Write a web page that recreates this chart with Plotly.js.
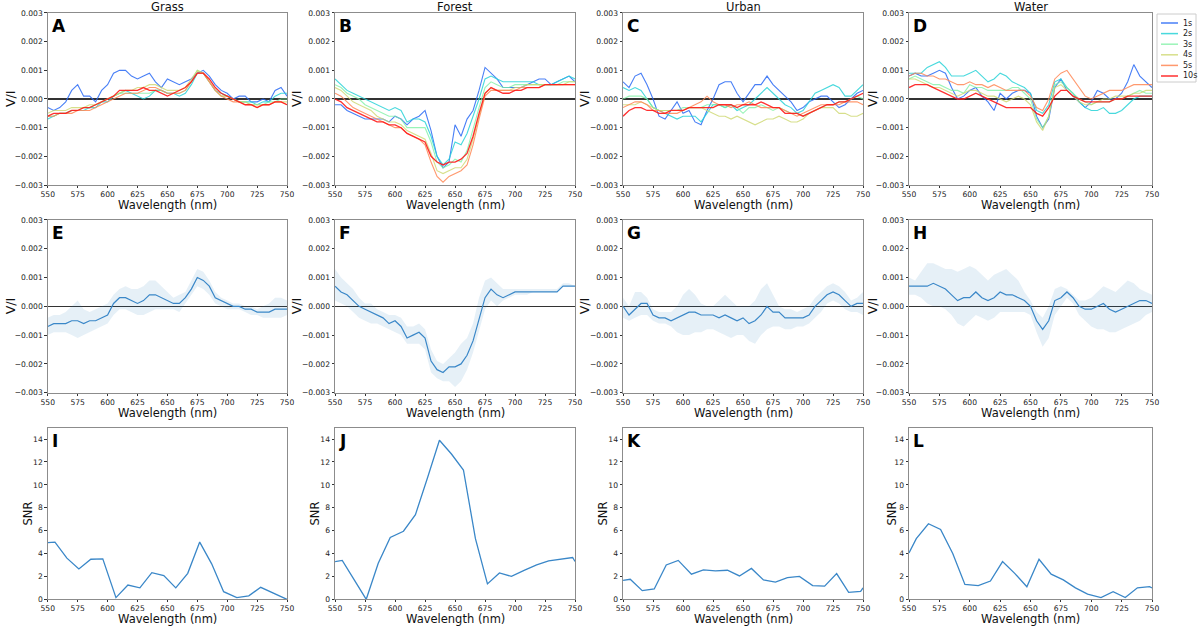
<!DOCTYPE html>
<html>
<head>
<meta charset="utf-8">
<script src="https://cdn.plot.ly/plotly-3.0.1.min.js"></script>
<style>html,body{margin:0;padding:0;background:#fff;}#chart{width:1200px;height:628px;}</style>
</head>
<body>
<div id="chart"></div>
<script>
// ---------- DATA ----------
const panelTitles = ["Grass", "Forest", "Urban", "Water"];
const panelLetters = ["A","B","C","D","E","F","G","H","I","J","K","L"];
const seriesNames = ["1s","2s","3s","4s","5s","10s"];
const xAxisTitle = "Wavelength (nm)";
const rowYTitles = ["V/I","V/I","SNR"];
const wavelength = [550,555,560,565,570,575,580,585,590,595,600,605,610,615,620,625,630,635,640,645,650,655,660,665,670,675,680,685,690,695,700,705,710,715,720,725,730,735,740,745,750];
const xTicks = [550,575,600,625,650,675,700,725,750];
const viTicks = [-0.003,-0.002,-0.001,0,0.001,0.002,0.003];
const snrTicks = [0,2,4,6,8,10,12,14];

// Row 1 : V/I per exposure time
const grass1s  = [-0.0003,-0.0004,-0.0003,-0.0001,0.0003,0.0005,0.0001,0.0001,-0.0001,0.0003,0.0005,0.0009,0.0010,0.0010,0.0008,0.0007,0.0008,0.0009,0.0006,0.0004,0.0007,0.0006,0.0005,0.0006,0.0007,0.0009,0.0010,0.0008,0.0005,0.0003,0.0002,0.0000,0.0001,0.0001,-0.0001,-0.0001,0.0000,-0.0001,0.0003,0.0004,0.0001];
const grass2s  = [-0.0007,-0.0006,-0.0005,-0.0005,-0.0004,-0.0004,-0.0004,-0.0003,-0.0003,-0.0001,-0.0001,0.0001,0.0002,0.0003,0.0002,0.0001,0.0000,0.0001,0.0003,0.0003,0.0002,0.0002,0.0001,0.0002,0.0005,0.0009,0.0009,0.0006,0.0003,0.0002,0.0001,0.0000,-0.0001,-0.0001,-0.0001,-0.0002,-0.0001,-0.0001,0.0001,0.0002,0.0002];
const grass3s  = [-0.0006,-0.0006,-0.0005,-0.0005,-0.0004,-0.0004,-0.0003,-0.0003,-0.0002,-0.0001,0.0000,0.0001,0.0002,0.0002,0.0002,0.0002,0.0002,0.0002,0.0003,0.0003,0.0002,0.0002,0.0002,0.0003,0.0006,0.0010,0.0009,0.0006,0.0003,0.0001,0.0001,0.0000,-0.0001,-0.0001,-0.0002,-0.0002,-0.0002,-0.0001,-0.0001,0.0000,0.0000];
const grass4s  = [-0.0005,-0.0004,-0.0004,-0.0004,-0.0003,-0.0003,-0.0003,-0.0002,-0.0002,-0.0001,0.0000,0.0001,0.0002,0.0003,0.0003,0.0004,0.0004,0.0005,0.0005,0.0004,0.0003,0.0003,0.0003,0.0004,0.0007,0.0010,0.0009,0.0006,0.0003,0.0001,0.0001,0.0000,-0.0001,-0.0001,-0.0002,-0.0002,-0.0002,-0.0002,-0.0001,-0.0001,-0.0001];
const grass5s  = [-0.0006,-0.0006,-0.0005,-0.0005,-0.0005,-0.0004,-0.0004,-0.0004,-0.0003,-0.0002,-0.0001,0.0000,0.0001,0.0002,0.0002,0.0002,0.0003,0.0004,0.0004,0.0003,0.0002,0.0002,0.0002,0.0003,0.0006,0.0009,0.0009,0.0006,0.0003,0.0001,0.0000,-0.0001,-0.0001,-0.0002,-0.0002,-0.0003,-0.0002,-0.0002,-0.0001,-0.0001,-0.0002];
const grass10s = [-0.0006,-0.0005,-0.0005,-0.0005,-0.0004,-0.0004,-0.0003,-0.0003,-0.0002,-0.0001,0.0000,0.0001,0.0003,0.0003,0.0003,0.0003,0.0004,0.0003,0.0003,0.0002,0.0001,0.0002,0.0003,0.0004,0.0006,0.0009,0.0009,0.0007,0.0004,0.0002,0.0001,0.0000,-0.0001,-0.0002,-0.0002,-0.0003,-0.0002,-0.0002,-0.0001,-0.0001,-0.0002];

const forest1s  = [-0.0002,-0.0002,-0.0004,-0.0005,-0.0006,-0.0007,-0.0007,-0.0007,-0.0007,-0.0008,-0.0006,-0.0007,-0.0009,-0.0007,-0.0006,-0.0004,-0.0011,-0.0020,-0.0024,-0.0022,-0.0009,-0.0013,-0.0007,-0.0004,0.0003,0.0011,0.0009,0.0007,0.0004,0.0004,0.0004,0.0004,0.0005,0.0006,0.0007,0.0007,0.0005,0.0006,0.0007,0.0008,0.0006];
const forest2s  = [0.0007,0.0005,0.0003,0.0002,0.0001,0.0000,-0.0001,-0.0002,-0.0003,-0.0004,-0.0003,-0.0004,-0.0008,-0.0007,-0.0007,-0.0008,-0.0013,-0.0020,-0.0023,-0.0021,-0.0015,-0.0016,-0.0012,-0.0006,0.0000,0.0007,0.0008,0.0007,0.0006,0.0006,0.0006,0.0006,0.0006,0.0006,0.0005,0.0005,0.0005,0.0006,0.0007,0.0008,0.0007];
const forest3s  = [0.0005,0.0004,0.0002,0.0001,0.0000,-0.0002,-0.0003,-0.0004,-0.0005,-0.0006,-0.0006,-0.0007,-0.0010,-0.0010,-0.0010,-0.0010,-0.0015,-0.0022,-0.0024,-0.0023,-0.0021,-0.0022,-0.0018,-0.0010,-0.0003,0.0004,0.0006,0.0005,0.0004,0.0004,0.0005,0.0005,0.0005,0.0005,0.0005,0.0005,0.0005,0.0005,0.0006,0.0006,0.0006];
const forest4s  = [0.0004,0.0003,0.0001,-0.0001,-0.0002,-0.0003,-0.0004,-0.0006,-0.0007,-0.0008,-0.0008,-0.0009,-0.0011,-0.0012,-0.0013,-0.0014,-0.0019,-0.0025,-0.0026,-0.0025,-0.0024,-0.0024,-0.0021,-0.0014,-0.0006,0.0002,0.0004,0.0003,0.0003,0.0003,0.0004,0.0004,0.0005,0.0005,0.0005,0.0005,0.0005,0.0005,0.0005,0.0006,0.0006];
const forest5s  = [0.0002,0.0001,-0.0001,-0.0003,-0.0004,-0.0005,-0.0006,-0.0007,-0.0008,-0.0009,-0.0010,-0.0010,-0.0012,-0.0013,-0.0014,-0.0016,-0.0022,-0.0027,-0.0029,-0.0027,-0.0026,-0.0025,-0.0023,-0.0016,-0.0007,0.0001,0.0003,0.0003,0.0003,0.0003,0.0003,0.0004,0.0004,0.0004,0.0004,0.0005,0.0005,0.0005,0.0005,0.0005,0.0005];
const forest10s = [0.0000,-0.0001,-0.0003,-0.0004,-0.0005,-0.0006,-0.0007,-0.0008,-0.0008,-0.0009,-0.0009,-0.0010,-0.0012,-0.0013,-0.0014,-0.0015,-0.0020,-0.0022,-0.0023,-0.0022,-0.0022,-0.0021,-0.0019,-0.0013,-0.0005,0.0002,0.0004,0.0003,0.0002,0.0002,0.0003,0.0003,0.0004,0.0004,0.0004,0.0005,0.0005,0.0005,0.0005,0.0005,0.0005];

const urban1s  = [0.0006,0.0004,0.0008,0.0009,0.0005,0.0000,-0.0006,-0.0007,-0.0004,-0.0001,-0.0005,-0.0004,-0.0008,-0.0009,-0.0004,0.0000,0.0005,0.0006,0.0006,0.0002,-0.0001,0.0002,0.0005,0.0005,0.0008,0.0005,0.0003,0.0001,-0.0001,-0.0004,-0.0003,-0.0001,0.0000,0.0001,0.0001,-0.0001,-0.0003,-0.0002,0.0000,0.0002,0.0003];
const urban2s  = [0.0004,0.0003,0.0004,0.0003,0.0000,-0.0003,-0.0004,-0.0005,-0.0006,-0.0007,-0.0006,-0.0006,-0.0006,-0.0008,-0.0005,-0.0002,-0.0002,-0.0003,-0.0002,-0.0004,-0.0003,-0.0002,0.0000,0.0002,0.0004,0.0002,0.0000,-0.0002,-0.0003,-0.0005,-0.0004,-0.0001,0.0002,0.0003,0.0004,0.0005,0.0004,0.0001,0.0001,0.0003,0.0005];
const urban3s  = [0.0000,0.0001,0.0001,0.0001,0.0000,-0.0003,-0.0004,-0.0004,-0.0004,-0.0004,-0.0003,-0.0003,-0.0003,-0.0003,-0.0002,-0.0002,-0.0002,-0.0003,-0.0002,-0.0003,-0.0005,-0.0003,-0.0003,-0.0002,-0.0003,-0.0004,-0.0003,-0.0004,-0.0005,-0.0005,-0.0006,-0.0005,-0.0004,-0.0003,-0.0002,-0.0002,-0.0001,-0.0001,0.0000,0.0001,0.0000];
const urban4s  = [-0.0002,-0.0002,-0.0002,-0.0001,-0.0002,-0.0003,-0.0004,-0.0004,-0.0004,-0.0004,-0.0004,-0.0003,-0.0003,-0.0003,-0.0004,-0.0005,-0.0006,-0.0006,-0.0007,-0.0006,-0.0007,-0.0008,-0.0009,-0.0008,-0.0007,-0.0007,-0.0006,-0.0007,-0.0008,-0.0008,-0.0007,-0.0005,-0.0004,-0.0003,-0.0003,-0.0003,-0.0005,-0.0005,-0.0006,-0.0006,-0.0005];
const urban5s  = [-0.0003,-0.0002,-0.0001,-0.0001,-0.0002,-0.0004,-0.0004,-0.0005,-0.0005,-0.0005,-0.0004,-0.0003,-0.0002,-0.0001,0.0001,-0.0001,-0.0002,-0.0002,-0.0003,-0.0002,-0.0002,-0.0001,-0.0002,-0.0003,-0.0003,-0.0003,-0.0003,-0.0004,-0.0005,-0.0006,-0.0005,-0.0004,-0.0003,-0.0002,-0.0002,-0.0002,-0.0002,-0.0001,-0.0001,-0.0001,-0.0002];
const urban10s = [-0.0006,-0.0004,-0.0003,-0.0003,-0.0004,-0.0004,-0.0005,-0.0005,-0.0004,-0.0004,-0.0004,-0.0003,-0.0003,-0.0003,-0.0003,-0.0003,-0.0002,-0.0002,-0.0002,-0.0003,-0.0002,-0.0002,-0.0002,-0.0001,-0.0002,-0.0003,-0.0003,-0.0005,-0.0005,-0.0005,-0.0006,-0.0005,-0.0004,-0.0003,-0.0002,-0.0002,-0.0001,-0.0001,0.0000,0.0001,0.0002];

const water1s  = [0.0008,0.0009,0.0008,0.0008,0.0009,0.0010,0.0009,0.0004,0.0000,0.0001,0.0003,0.0004,0.0001,-0.0001,-0.0004,0.0002,0.0000,0.0002,0.0003,0.0003,0.0002,-0.0006,-0.0010,-0.0007,0.0004,0.0007,0.0003,0.0001,-0.0001,-0.0003,-0.0001,0.0003,0.0002,0.0000,0.0000,0.0002,0.0006,0.0012,0.0008,0.0006,0.0004];
const water2s  = [0.0009,0.0009,0.0009,0.0011,0.0012,0.0013,0.0011,0.0008,0.0008,0.0008,0.0009,0.0010,0.0008,0.0006,0.0007,0.0009,0.0008,0.0006,0.0005,0.0004,0.0002,-0.0004,-0.0005,-0.0002,0.0006,0.0007,0.0004,0.0002,-0.0001,-0.0003,-0.0004,-0.0004,-0.0003,-0.0005,-0.0005,-0.0004,-0.0002,0.0000,0.0001,0.0001,0.0001];
const water3s  = [0.0007,0.0008,0.0007,0.0006,0.0005,0.0005,0.0004,0.0003,0.0003,0.0002,0.0005,0.0004,0.0004,0.0003,0.0003,0.0003,0.0003,0.0004,0.0004,0.0002,0.0000,-0.0007,-0.0010,-0.0006,0.0005,0.0006,0.0004,0.0002,0.0000,-0.0001,-0.0002,-0.0001,-0.0001,-0.0001,0.0000,0.0000,0.0001,0.0002,0.0003,0.0002,0.0002];
const water4s  = [0.0007,0.0007,0.0006,0.0005,0.0004,0.0004,0.0003,0.0002,0.0001,0.0002,0.0003,0.0003,0.0002,0.0001,0.0001,0.0000,-0.0001,0.0000,0.0001,0.0000,-0.0002,-0.0008,-0.0011,-0.0006,0.0004,0.0005,0.0003,0.0001,-0.0001,-0.0002,-0.0002,-0.0001,0.0000,0.0000,0.0001,0.0001,0.0001,0.0002,0.0002,0.0003,0.0003];
const water5s  = [0.0008,0.0009,0.0009,0.0008,0.0008,0.0007,0.0007,0.0006,0.0005,0.0005,0.0006,0.0005,0.0005,0.0004,0.0005,0.0004,0.0003,0.0003,0.0003,0.0003,0.0001,-0.0003,-0.0004,0.0000,0.0007,0.0009,0.0010,0.0007,0.0004,0.0001,0.0000,0.0001,0.0002,0.0003,0.0003,0.0003,0.0004,0.0005,0.0005,0.0005,0.0005];
const water10s = [0.0004,0.0005,0.0005,0.0005,0.0004,0.0003,0.0002,0.0001,0.0000,0.0000,0.0001,0.0002,0.0001,0.0000,-0.0001,-0.0002,-0.0003,-0.0003,-0.0003,-0.0003,-0.0003,-0.0005,-0.0006,-0.0003,0.0001,0.0003,0.0003,0.0001,0.0000,-0.0001,-0.0001,-0.0001,-0.0001,-0.0001,0.0000,0.0000,0.0001,0.0001,0.0001,0.0001,0.0001];

// Row 2 : mean V/I with spread band
const grassMean  = [-0.0007,-0.0006,-0.0006,-0.0006,-0.0005,-0.0005,-0.0006,-0.0005,-0.0005,-0.0004,-0.0003,0.0001,0.0003,0.0003,0.0002,0.0001,0.0002,0.0004,0.0004,0.0003,0.0002,0.0001,0.0001,0.0003,0.0006,0.0010,0.0009,0.0007,0.0003,0.0002,0.0001,0.0000,0.0000,-0.0001,-0.0001,-0.0002,-0.0002,-0.0002,-0.0001,-0.0001,-0.0001];
const grassUpper = [-0.0004,-0.0003,-0.0003,-0.0002,0.0000,0.0002,-0.0001,-0.0002,-0.0001,0.0000,0.0001,0.0004,0.0006,0.0007,0.0006,0.0006,0.0007,0.0009,0.0009,0.0007,0.0005,0.0003,0.0004,0.0005,0.0009,0.0013,0.0012,0.0009,0.0005,0.0003,0.0002,0.0001,0.0001,0.0000,0.0000,-0.0001,0.0000,0.0001,0.0003,0.0003,0.0002];
const grassLower = [-0.0010,-0.0009,-0.0009,-0.0009,-0.0010,-0.0011,-0.0010,-0.0009,-0.0008,-0.0007,-0.0006,-0.0003,-0.0001,-0.0001,-0.0002,-0.0003,-0.0003,-0.0002,-0.0001,-0.0001,-0.0001,-0.0001,-0.0002,0.0001,0.0004,0.0007,0.0006,0.0004,0.0001,0.0000,-0.0001,-0.0001,-0.0001,-0.0002,-0.0003,-0.0003,-0.0004,-0.0004,-0.0004,-0.0004,-0.0003];

const forestMean  = [0.0007,0.0005,0.0004,0.0002,0.0000,-0.0001,-0.0002,-0.0003,-0.0004,-0.0006,-0.0005,-0.0007,-0.0011,-0.0010,-0.0009,-0.0011,-0.0019,-0.0022,-0.0023,-0.0021,-0.0021,-0.0020,-0.0017,-0.0012,-0.0004,0.0003,0.0006,0.0004,0.0003,0.0004,0.0005,0.0005,0.0005,0.0005,0.0005,0.0005,0.0005,0.0005,0.0007,0.0007,0.0007];
const forestUpper = [0.0013,0.0010,0.0008,0.0006,0.0003,0.0001,0.0001,-0.0001,-0.0002,-0.0003,-0.0003,-0.0004,-0.0007,-0.0007,-0.0006,-0.0008,-0.0015,-0.0019,-0.0020,-0.0018,-0.0016,-0.0013,-0.0011,-0.0006,0.0003,0.0009,0.0010,0.0008,0.0006,0.0006,0.0006,0.0006,0.0006,0.0006,0.0006,0.0006,0.0006,0.0006,0.0008,0.0008,0.0007];
const forestLower = [0.0002,0.0001,0.0000,-0.0002,-0.0004,-0.0005,-0.0006,-0.0006,-0.0007,-0.0008,-0.0009,-0.0010,-0.0013,-0.0013,-0.0013,-0.0015,-0.0023,-0.0025,-0.0026,-0.0026,-0.0028,-0.0026,-0.0022,-0.0016,-0.0008,-0.0001,0.0002,0.0000,0.0002,0.0003,0.0004,0.0004,0.0004,0.0005,0.0005,0.0005,0.0005,0.0005,0.0007,0.0007,0.0007];

const urbanMean  = [0.0000,-0.0003,-0.0001,0.0001,0.0001,-0.0003,-0.0004,-0.0004,-0.0005,-0.0004,-0.0003,-0.0002,-0.0002,-0.0003,-0.0003,-0.0003,-0.0004,-0.0003,-0.0004,-0.0005,-0.0004,-0.0006,-0.0005,-0.0003,0.0000,-0.0002,-0.0002,-0.0004,-0.0004,-0.0004,-0.0004,-0.0003,0.0000,0.0002,0.0004,0.0005,0.0004,0.0002,0.0000,0.0001,0.0001];
const urbanUpper = [0.0003,0.0000,0.0005,0.0005,0.0003,-0.0001,-0.0002,-0.0002,-0.0002,0.0000,0.0004,0.0006,0.0004,0.0001,0.0000,0.0000,0.0002,0.0004,0.0002,0.0000,0.0000,0.0000,0.0002,0.0006,0.0008,0.0004,0.0000,-0.0001,-0.0001,-0.0002,-0.0001,0.0000,0.0003,0.0005,0.0007,0.0008,0.0007,0.0005,0.0002,0.0003,0.0005];
const urbanLower = [-0.0004,-0.0005,-0.0004,-0.0003,-0.0003,-0.0005,-0.0006,-0.0006,-0.0007,-0.0009,-0.0010,-0.0010,-0.0009,-0.0009,-0.0008,-0.0008,-0.0009,-0.0010,-0.0011,-0.0010,-0.0010,-0.0012,-0.0013,-0.0010,-0.0008,-0.0007,-0.0007,-0.0008,-0.0008,-0.0007,-0.0007,-0.0006,-0.0004,-0.0002,0.0001,0.0002,0.0001,-0.0001,-0.0002,-0.0002,-0.0003];

const waterMean  = [0.0007,0.0007,0.0007,0.0007,0.0008,0.0007,0.0006,0.0004,0.0002,0.0003,0.0003,0.0005,0.0003,0.0002,0.0003,0.0005,0.0004,0.0004,0.0003,0.0002,0.0000,-0.0005,-0.0008,-0.0005,0.0002,0.0003,0.0005,0.0003,0.0000,-0.0001,-0.0001,0.0000,0.0001,-0.0001,-0.0002,-0.0001,0.0000,0.0001,0.0002,0.0002,0.0001];
const waterUpper = [0.0010,0.0009,0.0012,0.0015,0.0015,0.0014,0.0013,0.0013,0.0012,0.0013,0.0014,0.0013,0.0011,0.0009,0.0011,0.0012,0.0013,0.0011,0.0009,0.0005,0.0002,-0.0002,-0.0004,0.0000,0.0006,0.0007,0.0006,0.0004,0.0002,0.0002,0.0003,0.0005,0.0007,0.0006,0.0005,0.0007,0.0009,0.0008,0.0006,0.0005,0.0004];
const waterLower = [0.0004,0.0004,0.0003,0.0001,0.0000,0.0000,-0.0001,-0.0003,-0.0006,-0.0007,-0.0005,-0.0003,-0.0004,-0.0005,-0.0004,-0.0002,-0.0002,-0.0002,-0.0002,-0.0002,-0.0003,-0.0009,-0.0014,-0.0011,-0.0003,0.0000,0.0003,0.0001,-0.0003,-0.0005,-0.0007,-0.0008,-0.0008,-0.0009,-0.0009,-0.0008,-0.0007,-0.0006,-0.0005,-0.0003,-0.0002];

// Row 3 : SNR
const snrWavelength = [550,556,566,576,586,596,607,617,627,637,647,657,667,677,687,697,708,718,728,738,748,750];
const grassSNR  = [4.95,5.0,3.6,2.65,3.5,3.53,0.15,1.25,1.0,2.33,2.07,1.0,2.27,5.0,3.1,0.67,0.15,0.3,1.05,0.6,0.1,0.0];
const forestSNR = [3.3,3.4,1.7,0.0,3.15,5.4,5.95,7.4,10.6,13.9,12.7,11.3,5.3,1.35,2.3,2.0,2.55,3.0,3.35,3.5,3.65,3.3];
const urbanSNR  = [1.65,1.75,0.76,0.9,3.0,3.4,2.2,2.57,2.48,2.54,2.04,2.7,1.7,1.5,1.9,2.0,1.2,1.15,2.25,0.6,0.7,1.0];
const waterSNR  = [4.05,5.3,6.6,6.1,4.0,1.3,1.2,1.6,3.3,2.27,1.1,3.5,2.2,1.7,1.0,0.45,0.15,0.67,0.15,1.0,1.1,1.0];

// ---------- STYLE ----------
const seriesColors = ["rgba(40,105,245,0.85)","rgba(40,210,215,0.85)","rgba(120,240,160,0.75)","rgba(205,215,110,0.8)","rgba(255,135,85,0.85)","rgba(255,25,25,0.9)"];
const seriesWidths = [1.1,1.1,1.1,1.1,1.1,1.3];
const meanColor = "#3a87c8";
const bandColor = "rgba(31,119,180,0.11)";
const FONT = "DejaVu Sans, Arial, sans-serif";
const W = 1200, H = 628;
const px = v => v / W;           // horizontal pixel -> paper
const py = v => 1 - v / H;       // vertical pixel (from top) -> paper

const row1 = [
  [grass1s,grass2s,grass3s,grass4s,grass5s,grass10s],
  [forest1s,forest2s,forest3s,forest4s,forest5s,forest10s],
  [urban1s,urban2s,urban3s,urban4s,urban5s,urban10s],
  [water1s,water2s,water3s,water4s,water5s,water10s]
];
const row2 = [
  [grassMean,grassUpper,grassLower],
  [forestMean,forestUpper,forestLower],
  [urbanMean,urbanUpper,urbanLower],
  [waterMean,waterUpper,waterLower]
];
const row3 = [grassSNR,forestSNR,urbanSNR,waterSNR];

const xDomains = [[0.0398,0.2392],[0.2792,0.4792],[0.5192,0.7192],[0.7575,0.9600]];
const yDomains = [[0.7054,0.9793],[0.3747,0.6497],[0.0457,0.3190]];
const rowBottomPx = [185, 392.7, 599.3];
const yTitleXpx = [[10,296,584,872],[10,296,584,872],[28,315,603,892]];

const traces = [];
const layout = {
  width:W, height:H,
  margin:{l:0,r:0,t:0,b:0},
  paper_bgcolor:"#fff", plot_bgcolor:"#fff",
  font:{family:FONT,color:"#222",size:10},
  showlegend:false,
  annotations:[], shapes:[]
};

function axName(i){ return i===0 ? "" : String(i+1); }
const tickFont = {family:FONT,size:7.6,color:"#222"};

for (let r=0;r<3;r++){
  for (let c=0;c<4;c++){
    const idx = r*4+c;
    const ax = axName(idx);
    const xa = "x"+ax, ya = "y"+ax;
    layout["xaxis"+ax] = {
      domain:xDomains[c], anchor:ya, range:[550,750], tickvals:xTicks,
      showgrid:false, zeroline:false, showline:true, mirror:true, linecolor:"#8c8c8c", linewidth:1,
      ticks:"outside", ticklen:2, tickcolor:"#333", tickfont:tickFont
    };
    const ybase = {
      domain:yDomains[r], anchor:xa, showgrid:false, showline:true, mirror:true,
      linecolor:"#8c8c8c", linewidth:1, ticks:"outside", ticklen:2.5, tickcolor:"#333", tickfont:tickFont
    };
    if (r<2){
      layout["yaxis"+ax] = Object.assign(ybase, {range:[-0.003,0.003], tickvals:viTicks, tickformat:".3f",
        zeroline:true, zerolinecolor:"#333", zerolinewidth:1.3});
    } else {
      layout["yaxis"+ax] = Object.assign(ybase, {range:[0,15], tickvals:snrTicks, zeroline:false});
    }
    // x-axis title
    layout.annotations.push({
      text:xAxisTitle, xref:xa+" domain", yref:"paper", x:0.5, y:py(rowBottomPx[r]+20),
      xanchor:"center", yanchor:"middle", showarrow:false, font:{family:FONT,size:11.5,color:"#111"}
    });
    // y-axis title
    layout.annotations.push({
      text:rowYTitles[r], xref:"paper", yref:ya+" domain", x:px(yTitleXpx[r][c]), y:0.5,
      xanchor:"center", yanchor:"middle", textangle:-90, showarrow:false,
      font:{family:FONT,size:r<2?12.5:11.5,color:"#111"}
    });
    // panel letter
    layout.annotations.push({
      text:"<b>"+panelLetters[idx]+"</b>", xref:xa+" domain", yref:ya+" domain",
      x:0.008, y:0.995, xanchor:"left", yanchor:"top", showarrow:false,
      font:{family:FONT,size:17,color:"#000"}
    });
    if (r===0){
      layout.annotations.push({
        text:panelTitles[c], xref:xa+" domain", yref:"paper",
        x:0.5, y:py(6.5), xanchor:"center", yanchor:"middle", showarrow:false,
        font:{family:FONT,size:11.5,color:"#111"}
      });
      for (let s=0;s<6;s++){
        traces.push({
          type:"scatter", mode:"lines", x:wavelength, y:row1[c][s], xaxis:xa, yaxis:ya,
          name:seriesNames[s], line:{color:seriesColors[s], width:seriesWidths[s]}, hoverinfo:"skip"
        });
      }
    } else if (r===1){
      const [m,u,l] = row2[c];
      traces.push({type:"scatter",mode:"lines",x:wavelength,y:l,xaxis:xa,yaxis:ya,
                   line:{width:0,color:bandColor},hoverinfo:"skip"});
      traces.push({type:"scatter",mode:"lines",x:wavelength,y:u,xaxis:xa,yaxis:ya,
                   fill:"tonexty",fillcolor:bandColor,line:{width:0,color:bandColor},hoverinfo:"skip"});
      traces.push({type:"scatter",mode:"lines",x:wavelength,y:m,xaxis:xa,yaxis:ya,
                   line:{width:1.2,color:meanColor},hoverinfo:"skip"});
    } else {
      traces.push({type:"scatter",mode:"lines",x:snrWavelength,y:row3[c],xaxis:xa,yaxis:ya,
                   line:{width:1.3,color:meanColor},hoverinfo:"skip"});
    }
  }
}

// compact legend box (matplotlib style) at the top right
layout.shapes.push({type:"rect", xref:"paper", yref:"paper", x0:px(1157), x1:px(1196), y0:py(82), y1:py(14),
  line:{color:"#cccccc", width:1}, fillcolor:"rgba(255,255,255,0.9)", layer:"above"});
seriesNames.forEach((name,i)=>{
  const yy = py(23 + 10.6*i);
  layout.shapes.push({type:"line", xref:"paper", yref:"paper", x0:px(1161), x1:px(1178), y0:yy, y1:yy,
    line:{color:seriesColors[i], width:1.5}, layer:"above"});
  layout.annotations.push({text:name, xref:"paper", yref:"paper", x:px(1181), y:yy, xanchor:"left", yanchor:"middle",
    showarrow:false, font:{family:FONT,size:8,color:"#222"}});
});

Plotly.newPlot("chart", traces, layout, {staticPlot:true, displayModeBar:false});
</script>
</body>
</html>
